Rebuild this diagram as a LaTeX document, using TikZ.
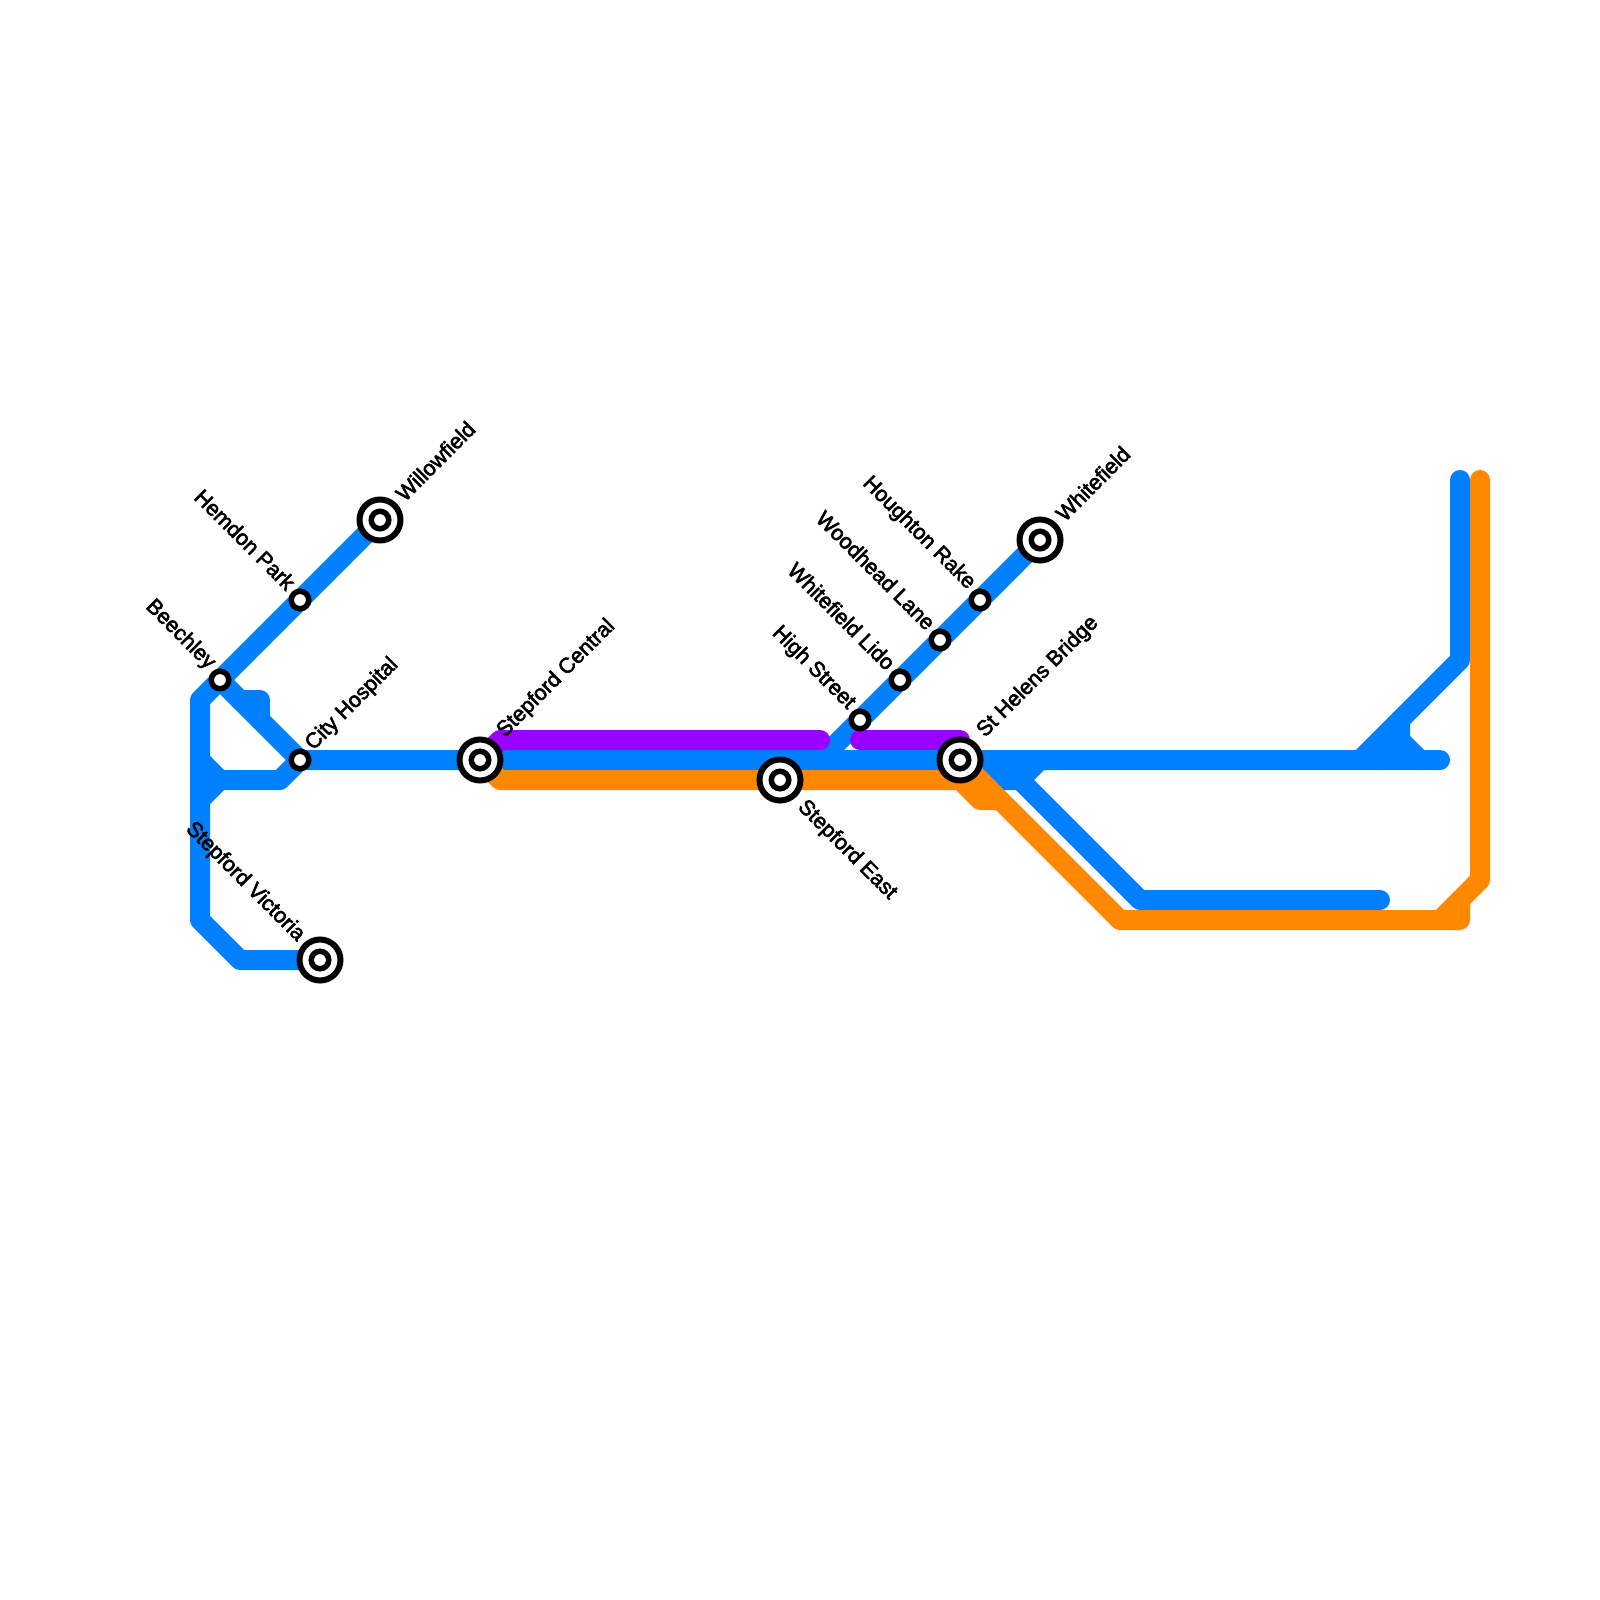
\documentclass[tikz,border=0pt]{standalone}
\usepackage{fontspec}
\setmainfont[RawFeature={embolden=2.6}]{Liberation Sans}
\definecolor{lblue}{HTML}{007FFF}
\definecolor{lorange}{HTML}{FF8800}
\definecolor{lpurple}{HTML}{9900FF}
\tikzset{
  metro/.style={line width=20pt,line join=round,line cap=round},
  blueline/.style={metro,draw=lblue},
  orangeline/.style={metro,draw=lorange},
  purpleline/.style={metro,draw=lpurple},
  stop/.style={circle,draw=black,fill=white,line width=5.5pt,minimum size=17.5pt,inner sep=0pt,outer sep=0pt},
  terminus/.style={circle,draw=black,fill=white,line width=6pt,minimum size=41pt,inner sep=0pt,outer sep=0pt},
  lbl/.style={inner sep=0pt,outer sep=0pt,font=\fontsize{21.5}{21.5}\selectfont,text=black},
  ne/.style={lbl,rotate=45,anchor=west},
  nw/.style={lbl,rotate=-45,anchor=east},
  se/.style={lbl,rotate=-45,anchor=west},
}
\begin{document}
\begin{tikzpicture}[x=1pt,y=-1pt]
\useasboundingbox (0,0) rectangle (1600,1600);
% stations
\coordinate (Willow) at (380,520);
\coordinate (Hemdon) at (300,600);
\coordinate (Beech) at (220,680);
\coordinate (City) at (300,760);
\coordinate (Central) at (480,760);
\coordinate (East) at (780,780);
\coordinate (Helens) at (960,760);
\coordinate (High) at (860,720);
\coordinate (Lido) at (900,680);
\coordinate (Wood) at (940,640);
\coordinate (Rake) at (980,600);
\coordinate (White) at (1040,540);
\coordinate (Vic) at (320,960);
% junctions
\coordinate (a1) at (200,700);
\coordinate (a2) at (200,920);
\coordinate (a3) at (240,960);
\coordinate (b1) at (200,760);
\coordinate (b2) at (220,780);
\coordinate (b3) at (280,780);
\coordinate (b4) at (200,800);
\coordinate (c1) at (240,700);
\coordinate (c2) at (260,700);
\coordinate (c3) at (260,720);
\coordinate (d1) at (820,760);
\coordinate (e1) at (1440,760);
\coordinate (f1) at (980,780);
\coordinate (f2) at (1020,780);
\coordinate (f3) at (1040,760);
\coordinate (f4) at (1140,900);
\coordinate (f5) at (1380,900);
\coordinate (g1) at (1360,760);
\coordinate (g2) at (1460,660);
\coordinate (g3) at (1460,480);
\coordinate (g4) at (1400,720);
\coordinate (g5) at (1400,740);
\coordinate (g6) at (1420,760);
\coordinate (g7) at (1380,760);
\coordinate (o1) at (500,780);
\coordinate (o2) at (960,780);
\coordinate (o3) at (980,800);
\coordinate (o4) at (1000,800);
\coordinate (o5) at (1120,920);
\coordinate (o6) at (1460,920);
\coordinate (o7) at (1460,900);
\coordinate (o8) at (1440,920);
\coordinate (o9) at (1480,880);
\coordinate (o10) at (1480,480);
\coordinate (p1) at (500,740);
\coordinate (p2) at (820,740);
\coordinate (p3) at (860,740);
\coordinate (p4) at (960,740);
% blue
\draw[blueline] (Willow) -- (a1) -- (a2) -- (a3) -- (Vic);
\draw[blueline] (Beech) -- (City) -- (e1);
\draw[blueline] (b1) -- (b2) -- (b3) -- (City);
\draw[blueline] (b4) -- (b2);
\draw[blueline] (c1) -- (c2) -- (c3);
\draw[blueline] (White) -- (d1);
\draw[blueline] (f1) -- (f2) -- (f4) -- (f5);
\draw[blueline] (f2) -- (f3);
\draw[blueline] (g1) -- (g2) -- (g3);
\draw[blueline] (g4) -- (g5) -- (g6);
\draw[blueline] (g7) -- (g5);
% orange
\draw[orangeline] (Central) -- (o1) -- (o2) -- (o3) -- (o4);
\draw[orangeline] (Helens) -- (o5) -- (o6) -- (o7);
\draw[orangeline] (o8) -- (o9) -- (o10);
% purple
\draw[purpleline] (Central) -- (p1) -- (p2);
\draw[purpleline] (p3) -- (p4) -- (Helens);
% station symbols
\foreach \n in {Willow,Central,East,Helens,White,Vic}{
  \node[terminus] (T\n) at (\n) {};
  \node[stop] (S\n) at (\n) {};
}
\foreach \n in {Hemdon,Beech,City,High,Lido,Wood,Rake}{
  \node[stop] (S\n) at (\n) {};
}
% labels
\node[ne] (LWillow) at (399.5,497) {Willowfield};
\node[nw] (LHemdon) at (291.5,586) {Hemdon Park};
\node[nw] (LBeech) at (211.5,666) {Beechley};
\node[ne] (LCity) at (309.5,747) {City Hospital};
\node[ne] (LCentral) at (501,734) {Stepford Central};
\node[se] (LEast) at (801,804) {Stepford East};
\node[ne] (LHelens) at (981,734) {St Helens Bridge};
\node[nw] (LHigh) at (851.5,706) {High Street};
\node[nw] (LLido) at (891.5,666) {Whitefield Lido};
\node[nw] (LWood) at (931.5,626) {Woodhead Lane};
\node[nw] (LRake) at (971.5,586) {Houghton Rake};
\node[ne] (LWhite) at (1059.5,517) {Whitefield};
\node[nw] (LVic) at (301,938) {Stepford Victoria};
\end{tikzpicture}
\end{document}
